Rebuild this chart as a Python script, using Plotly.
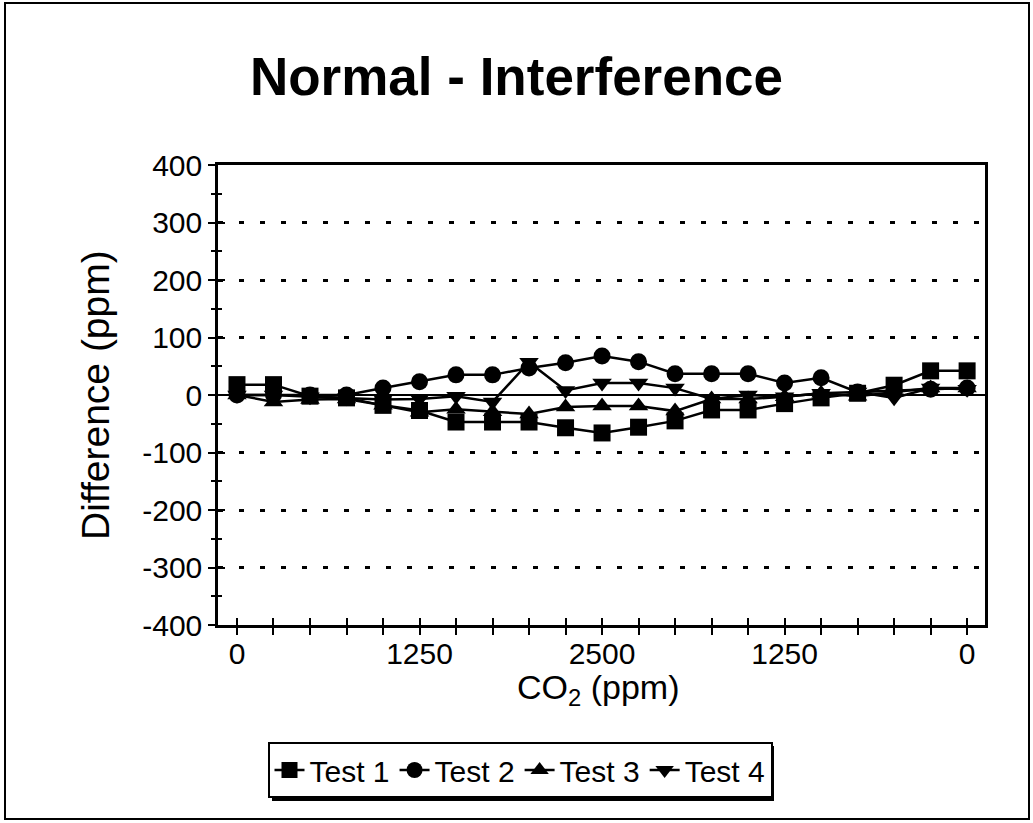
import plotly.graph_objects as go

# ---- data ----
CO2 = [0, 250, 500, 750, 1000, 1250, 1500, 1750, 2000, 2250, 2500,
       2250, 2000, 1750, 1500, 1250, 1000, 750, 500, 250, 0]
test1 = [18, 18, -2, -5, -18, -27, -47, -47, -47, -57, -66, -56, -45, -26, -26, -15, -5, 3, 17, 42, 42]
test2 = [0, 0, 0, 0, 12, 23, 35, 35, 47, 56, 68, 58, 37, 37, 37, 21, 30, 5, 8, 10, 12]
test3 = [0, -12, -8, -7, -18, -30, -25, -29, -33, -21, -19, -19, -28, -7, -7, -3, 3, -2, 5, 12, 12]
test4 = [0, 0, -3, -5, -8, -7, -2, -12, 57, 8, 21, 21, 12, -7, 0, -3, 3, 5, -5, 12, 10]
names = ["Test 1", "Test 2", "Test 3", "Test 4"]
symbols = ["square", "circle", "triangle-up", "triangle-down"]
series = [test1, test2, test3, test4]
YTICKS = [-400, -300, -200, -100, 0, 100, 200, 300, 400]

idx = list(range(len(CO2)))
xticktext = [str(c) if (i % 5 == 0) else "" for i, c in enumerate(CO2)]
yticktext = [str(v) for v in YTICKS]  # plain hyphen minus

FONT = "Liberation Sans, Arial, sans-serif"

# plot-area geometry (px)
L, R, T, B = 218, 985, 165, 625
W, H = 1033, 823
PW, PH = R - L, B - T

fig = go.Figure()
for nm, sym, ys in zip(names, symbols, series):
    fig.add_trace(go.Scatter(
        x=idx, y=ys, name=nm, mode="lines+markers",
        line=dict(color="black", width=2.5),
        marker=dict(symbol=sym, size=17, color="black"),
    ))
# invisible helper trace to carry the overlay axes (crossing ticks)
fig.add_trace(go.Scatter(x=[0], y=[0], xaxis="x2", yaxis="y2", mode="markers",
                         marker=dict(opacity=0), showlegend=False, hoverinfo="skip"))

xr = [-0.52, 20.49]
yr = [-400, 400]

fig.update_layout(
    width=W, height=H,
    margin=dict(l=L, r=W - R, t=T, b=H - B),
    paper_bgcolor="white", plot_bgcolor="white",
    font=dict(family=FONT, color="black"),
    title=dict(text="<b>Normal - Interference</b>", x=0.5, xanchor="center",
               y=1 - 76 / H, yanchor="middle", xref="container",
               font=dict(size=53, family=FONT, color="black")),
    xaxis=dict(range=xr, tickvals=idx, ticktext=xticktext, tickangle=0,
               ticks="outside", ticklen=7, tickwidth=2, tickcolor="black",
               ticklabelstandoff=-7,
               showline=True, linecolor="black", linewidth=2.5, mirror=True,
               showgrid=False, zeroline=False,
               tickfont=dict(size=30, family=FONT)),
    yaxis=dict(range=yr, tickvals=YTICKS, ticktext=yticktext,
               ticks="outside", ticklen=7, tickwidth=2, tickcolor="black",
               minor=dict(dtick=50, tick0=0, ticks="outside", ticklen=4, tickwidth=2,
                          tickcolor="black", showgrid=False),
               showline=True, linecolor="black", linewidth=2.5, mirror=True,
               showgrid=True, gridcolor="black", gridwidth=2.5, griddash="5px,16px",
               zeroline=True, zerolinecolor="black", zerolinewidth=1.5,
               tickfont=dict(size=30, family=FONT)),
    xaxis2=dict(range=xr, overlaying="x", anchor="y", side="bottom",
                tickvals=idx, showticklabels=False,
                ticks="inside", ticklen=7, tickwidth=2, tickcolor="black",
                showline=False, showgrid=False, zeroline=False),
    yaxis2=dict(range=yr, overlaying="y", anchor="x", side="left",
                tickvals=YTICKS, showticklabels=False,
                ticks="inside", ticklen=7, tickwidth=2, tickcolor="black",
                minor=dict(dtick=50, tick0=0, ticks="inside", ticklen=4, tickwidth=2,
                           tickcolor="black", showgrid=False),
                showline=False, showgrid=False, zeroline=False),
    legend=dict(orientation="h", x=(520 - L) / PW, xanchor="center",
                y=-(742 - B) / PH, yanchor="top",
                bgcolor="white", bordercolor="black", borderwidth=2,
                font=dict(size=30, family=FONT), itemwidth=30,
                tracegroupgap=0),
    showlegend=True,
)

# axis titles as annotations (precise placement)
fig.add_annotation(text="CO<sub>2</sub> (ppm)", xref="paper", yref="paper",
                   x=(598 - L) / PW, y=-(689 - B) / PH, xanchor="center", yanchor="middle",
                   showarrow=False, font=dict(size=34, family=FONT, color="black"))
fig.add_annotation(text="Difference (ppm)", xref="paper", yref="paper",
                   x=(95 - L) / PW, y=(B - 395) / PH, xanchor="center", yanchor="middle",
                   textangle=-90, showarrow=False,
                   font=dict(size=39, family=FONT, color="black"))

# legend drop shadow (Excel style)
fig.add_shape(type="rect", xref="paper", yref="paper",
              x0=(272 - L) / PW, x1=(774 - L) / PW,
              y0=-(801 - B) / PH, y1=-(746 - B) / PH,
              line=dict(width=0), fillcolor="black", layer="above")

# outer chart frame
fig.add_shape(type="rect", xref="paper", yref="paper",
              x0=(5 - L) / PW, x1=(1029 - L) / PW,
              y0=-(819 - B) / PH, y1=(B - 3) / PH,
              line=dict(color="black", width=2), fillcolor="rgba(0,0,0,0)", layer="below")

fig.write_html("out.html", post_script="document.body.style.margin='0';",
               config={"displayModeBar": False})
